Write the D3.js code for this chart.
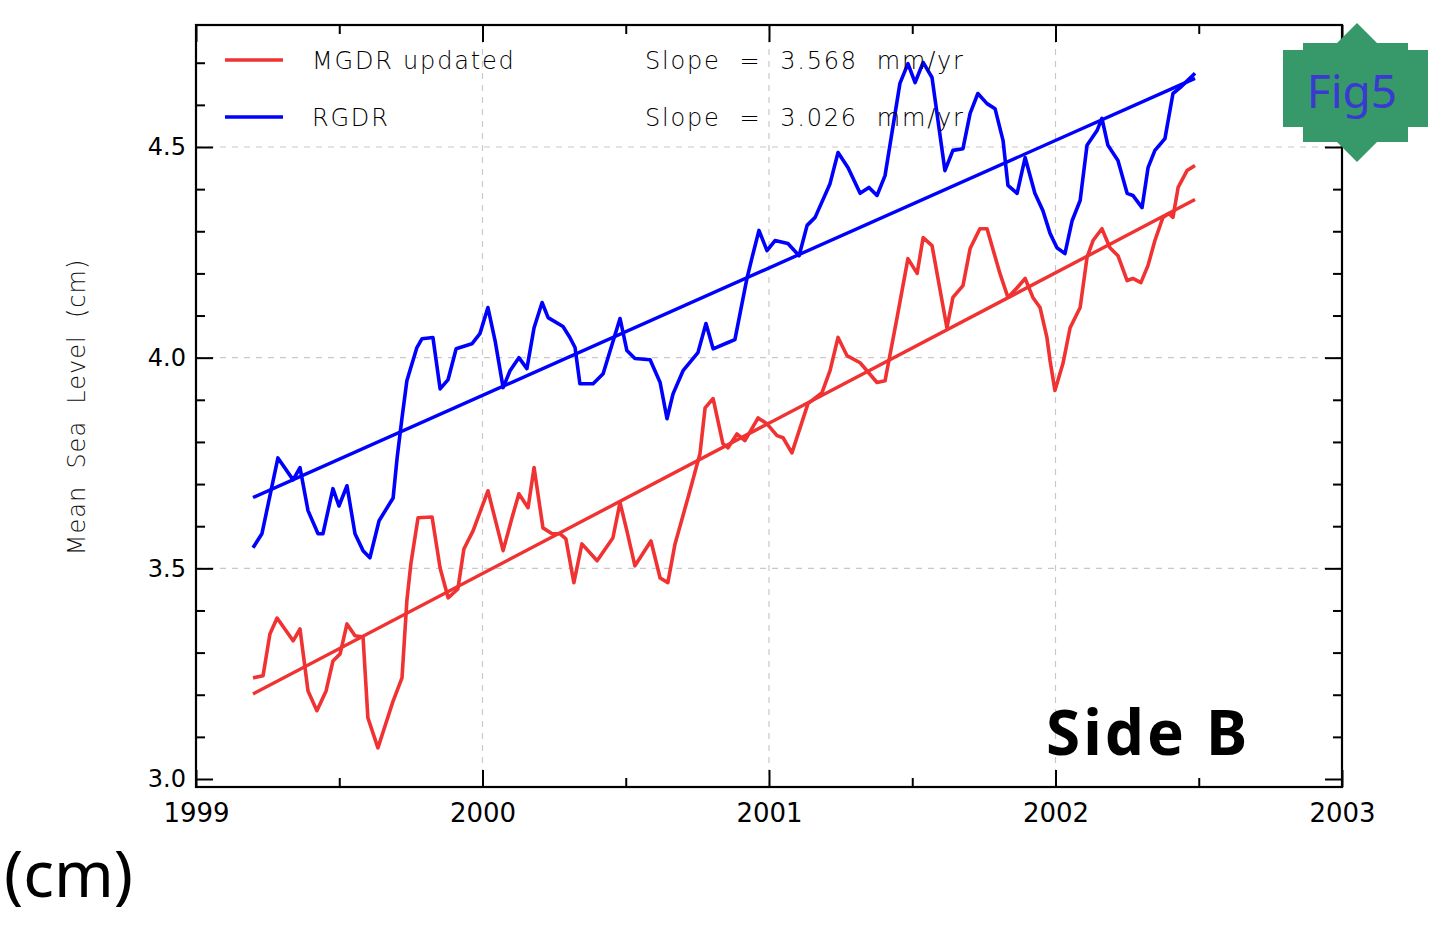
<!DOCTYPE html>
<html>
<head>
<meta charset="utf-8">
<script src="https://cdn.jsdelivr.net/npm/d3@7"></script>
<style>
  body { margin: 0; background: #fff; }
  text { white-space: pre; }
</style>
</head>
<body>
<div id="chart"></div>
<script>
// series (year, mean sea level in cm)
const mgdrYears = [1999.199, 1999.234, 1999.258, 1999.283, 1999.339, 1999.363, 1999.391, 1999.422, 1999.454, 1999.478,
  1999.503, 1999.527, 1999.555, 1999.583, 1999.600, 1999.635, 1999.688, 1999.719, 1999.736, 1999.750,
  1999.775, 1999.824, 1999.852, 1999.880, 1999.914, 1999.935, 1999.967, 2000.019, 2000.072, 2000.103,
  2000.127, 2000.159, 2000.180, 2000.211, 2000.243, 2000.271, 2000.291, 2000.319, 2000.347, 2000.400,
  2000.455, 2000.480, 2000.504, 2000.532, 2000.588, 2000.620, 2000.647, 2000.672, 2000.724, 2000.759,
  2000.777, 2000.805, 2000.839, 2000.857, 2000.888, 2000.916, 2000.962, 2000.993, 2001.028, 2001.049,
  2001.080, 2001.136, 2001.185, 2001.213, 2001.241, 2001.272, 2001.318, 2001.377, 2001.405, 2001.447,
  2001.485, 2001.517, 2001.538, 2001.569, 2001.621, 2001.642, 2001.677, 2001.702, 2001.736, 2001.761,
  2001.806, 2001.834, 2001.866, 2001.894, 2001.921, 2001.946, 2001.970, 2001.981, 2001.998, 2002.026,
  2002.051, 2002.086, 2002.110, 2002.131, 2002.162, 2002.190, 2002.218, 2002.250, 2002.270, 2002.298,
  2002.323, 2002.347, 2002.375, 2002.396, 2002.410, 2002.428, 2002.459, 2002.487];
const mgdrValues = [3.240, 3.245, 3.344, 3.382, 3.328, 3.356, 3.209, 3.162, 3.209, 3.280,
  3.297, 3.368, 3.340, 3.337, 3.145, 3.074, 3.185, 3.240, 3.423, 3.511,
  3.620, 3.622, 3.501, 3.430, 3.451, 3.546, 3.589, 3.684, 3.542, 3.620,
  3.677, 3.644, 3.739, 3.596, 3.582, 3.582, 3.570, 3.466, 3.558, 3.518,
  3.572, 3.656, 3.589, 3.506, 3.565, 3.477, 3.466, 3.558, 3.684, 3.772,
  3.881, 3.903, 3.796, 3.786, 3.819, 3.803, 3.857, 3.843, 3.815, 3.810,
  3.774, 3.891, 3.917, 3.969, 4.048, 4.005, 3.988, 3.941, 3.945, 4.095,
  4.235, 4.200, 4.285, 4.266, 4.071, 4.143, 4.171, 4.259, 4.306, 4.306,
  4.200, 4.143, 4.166, 4.188, 4.143, 4.119, 4.048, 3.993, 3.922, 3.986,
  4.071, 4.119, 4.238, 4.278, 4.306, 4.261, 4.242, 4.183, 4.188, 4.178,
  4.219, 4.278, 4.333, 4.342, 4.333, 4.404, 4.444, 4.456];

const rgdrYears = [1999.199, 1999.230, 1999.286, 1999.339, 1999.363, 1999.391, 1999.426, 1999.443, 1999.478, 1999.499,
  1999.527, 1999.555, 1999.583, 1999.607, 1999.639, 1999.688, 1999.702, 1999.719, 1999.736, 1999.771,
  1999.789, 1999.827, 1999.852, 1999.880, 1999.908, 1999.963, 1999.991, 2000.019, 2000.044, 2000.072,
  2000.096, 2000.127, 2000.155, 2000.180, 2000.208, 2000.229, 2000.281, 2000.305, 2000.323, 2000.340,
  2000.386, 2000.421, 2000.438, 2000.480, 2000.504, 2000.532, 2000.585, 2000.620, 2000.644, 2000.665,
  2000.700, 2000.752, 2000.780, 2000.805, 2000.857, 2000.881, 2000.923, 2000.941, 2000.965, 2000.993,
  2001.021, 2001.066, 2001.105, 2001.133, 2001.161, 2001.213, 2001.241, 2001.276, 2001.318, 2001.349,
  2001.377, 2001.405, 2001.457, 2001.485, 2001.510, 2001.538, 2001.569, 2001.614, 2001.642, 2001.677,
  2001.702, 2001.729, 2001.761, 2001.789, 2001.817, 2001.834, 2001.866, 2001.894, 2001.928, 2001.956,
  2001.981, 2002.005, 2002.033, 2002.058, 2002.086, 2002.110, 2002.145, 2002.162, 2002.183, 2002.218,
  2002.250, 2002.270, 2002.302, 2002.323, 2002.347, 2002.382, 2002.410, 2002.435, 2002.487];
const rgdrValues = [3.549, 3.582, 3.762, 3.710, 3.739, 3.637, 3.582, 3.582, 3.689, 3.648,
  3.696, 3.582, 3.542, 3.525, 3.613, 3.667, 3.762, 3.857, 3.945, 4.024,
  4.045, 4.048, 3.926, 3.948, 4.021, 4.033, 4.057, 4.119, 4.040, 3.929,
  3.969, 4.000, 3.974, 4.071, 4.131, 4.095, 4.074, 4.048, 4.024, 3.938,
  3.938, 3.962, 4.000, 4.093, 4.017, 3.998, 3.995, 3.941, 3.855, 3.914,
  3.969, 4.012, 4.081, 4.021, 4.036, 4.043, 4.188, 4.238, 4.302, 4.254,
  4.278, 4.271, 4.242, 4.314, 4.333, 4.413, 4.487, 4.451, 4.390, 4.404,
  4.385, 4.432, 4.651, 4.698, 4.653, 4.701, 4.665, 4.444, 4.492, 4.496,
  4.580, 4.627, 4.603, 4.591, 4.515, 4.409, 4.390, 4.475, 4.390, 4.349,
  4.295, 4.261, 4.247, 4.325, 4.373, 4.504, 4.539, 4.568, 4.504, 4.468,
  4.390, 4.385, 4.356, 4.451, 4.492, 4.520, 4.627, 4.641, 4.675];

const seriesNames = ["MGDR updated", "RGDR"];
const seriesColors = ["#f03232", "#0000ff"];
const slopes = [3.568, 3.026];        // mm/yr
const trendStart = [3.202, 3.668];    // cm at first sample
const yearTicks = [1999, 2000, 2001, 2002, 2003];
const levelTicks = [3.0, 3.5, 4.0, 4.5];

const W = 1451, H = 925;
const svg = d3.select("#chart").append("svg")
  .attr("width", W).attr("height", H);

const pLeft = 196, pRight = 1342, pTop = 25, pBottom = 787;
const x = d3.scaleLinear().domain([1999, 2003]).range([pLeft, pRight]);
const y = d3.scaleLinear().domain([3.0, 4.5]).range([779, 147]);

// grid
const grid = svg.append("g").attr("stroke", "#c8c8c8").attr("stroke-width", 1.2)
  .attr("stroke-dasharray", "6,6");
grid.selectAll(".gx").data(yearTicks.slice(1, -1)).enter().append("line")
  .attr("x1", d => x(d)).attr("x2", d => x(d)).attr("y1", pTop).attr("y2", pBottom);
grid.selectAll(".gy").data(levelTicks.slice(1)).enter().append("line")
  .attr("x1", pLeft).attr("x2", pRight).attr("y1", d => y(d)).attr("y2", d => y(d));

// axes, ticks pointing inward
const halfYears = d3.range(1999.5, 2003, 1);
const tenths = d3.range(3.0, 4.75, 0.1).map(v => +v.toFixed(1)).filter(v => levelTicks.indexOf(v) < 0);
const axisFont = "'DejaVu Sans', sans-serif";

function styleAxis(g) {
  g.select(".domain").remove();
  g.selectAll("line").attr("stroke", "#000").attr("stroke-width", 2);
  g.selectAll("text").attr("fill", "#000").style("font-family", axisFont);
}

svg.append("g").attr("transform", `translate(0,${pBottom})`)
  .call(d3.axisBottom(x).tickValues(yearTicks).tickFormat(d3.format("d")).tickSizeInner(-17).tickSizeOuter(0).tickPadding(17))
  .call(styleAxis).selectAll("text").style("font-size", "26px");
svg.append("g").attr("transform", `translate(0,${pBottom})`)
  .call(d3.axisBottom(x).tickValues(halfYears).tickFormat("").tickSizeInner(-9).tickSizeOuter(0))
  .call(styleAxis);
svg.append("g").attr("transform", `translate(0,${pTop})`)
  .call(d3.axisTop(x).tickValues(yearTicks).tickFormat("").tickSizeInner(-17).tickSizeOuter(0))
  .call(styleAxis);
svg.append("g").attr("transform", `translate(0,${pTop})`)
  .call(d3.axisTop(x).tickValues(halfYears).tickFormat("").tickSizeInner(-9).tickSizeOuter(0))
  .call(styleAxis);

svg.append("g").attr("transform", `translate(${pLeft},0)`)
  .call(d3.axisLeft(y).tickValues(levelTicks).tickFormat(d3.format(".1f")).tickSizeInner(-17).tickSizeOuter(0).tickPadding(10))
  .call(styleAxis).selectAll("text").style("font-size", "24px");
svg.append("g").attr("transform", `translate(${pLeft},0)`)
  .call(d3.axisLeft(y).tickValues(tenths).tickFormat("").tickSizeInner(-9).tickSizeOuter(0))
  .call(styleAxis);
svg.append("g").attr("transform", `translate(${pRight},0)`)
  .call(d3.axisRight(y).tickValues(levelTicks).tickFormat("").tickSizeInner(-17).tickSizeOuter(0))
  .call(styleAxis);
svg.append("g").attr("transform", `translate(${pRight},0)`)
  .call(d3.axisRight(y).tickValues(tenths).tickFormat("").tickSizeInner(-9).tickSizeOuter(0))
  .call(styleAxis);

// frame
svg.append("rect").attr("x", pLeft).attr("y", pTop)
  .attr("width", pRight - pLeft).attr("height", pBottom - pTop)
  .attr("fill", "none").attr("stroke", "#000").attr("stroke-width", 2.2);

// data lines
const series = [
  d3.zip(mgdrYears, mgdrValues),
  d3.zip(rgdrYears, rgdrValues)
];
const line = d3.line().x(d => x(d[0])).y(d => y(d[1]));

series.forEach((s, i) => {
  svg.append("path").datum(s)
    .attr("d", line)
    .attr("fill", "none")
    .attr("stroke", seriesColors[i])
    .attr("stroke-width", 3.6)
    .attr("stroke-linejoin", "round");

  const x0 = s[0][0], x1 = s[s.length - 1][0];
  const trend = [[x0, trendStart[i]], [x1, trendStart[i] + slopes[i] / 10 * (x1 - x0)]];
  svg.append("path").datum(trend)
    .attr("d", line)
    .attr("fill", "none")
    .attr("stroke", seriesColors[i])
    .attr("stroke-width", 3.4);
});

// legend
const legendFont = "'DejaVu Sans', sans-serif";
seriesNames.forEach((name, i) => {
  const ly = 60 + i * 57;
  svg.append("line").attr("x1", 225).attr("x2", 283).attr("y1", ly).attr("y2", ly)
    .attr("stroke", seriesColors[i]).attr("stroke-width", 3.6);
  svg.append("text").attr("x", 312).attr("y", ly + 9)
    .style("font-family", legendFont).style("font-weight", 300).style("font-size", "24px").style("letter-spacing", "1.8px")
    .attr("fill", "#000").text(name);
  svg.append("text").attr("x", 645).attr("y", ly + 9)
    .style("font-family", legendFont).style("font-weight", 300).style("font-size", "24px").style("letter-spacing", "1.8px")
    .attr("fill", "#000").text("Slope  =  " + slopes[i].toFixed(3) + "  mm/yr");
});

// y label
svg.append("text")
  .attr("transform", "translate(85,407) rotate(-90)")
  .attr("text-anchor", "middle")
  .style("font-family", legendFont).style("font-weight", 300).style("font-size", "24px").style("letter-spacing", "1px")
  .attr("fill", "#111").text("Mean  Sea  Level  (cm)");

// annotations
svg.append("text").attr("x", 1046).attr("y", 755)
  .style("font-family", "'Noto Sans', sans-serif").style("font-weight", "bold").style("font-size", "62px")
  .style("letter-spacing", "3px")
  .attr("fill", "#000").text("Side B");
svg.append("text").attr("x", 4).attr("y", 897)
  .style("font-family", "'Noto Sans', sans-serif").style("font-size", "64px")
  .attr("fill", "#000").text("(cm)");

// Fig5 badge
const badge = [[1357,23],[1337,43],[1303,43],[1303,50],[1283,50],[1283,127],[1303,127],[1303,142],[1337,142],
  [1357,162],[1377,142],[1408,142],[1408,127],[1428,127],[1428,50],[1408,50],[1408,43],[1377,43]];
svg.append("polygon").attr("points", badge.map(p => p.join(",")).join(" ")).attr("fill", "#37996a");
svg.append("text").attr("x", 1352).attr("y", 108).attr("text-anchor", "middle")
  .style("font-family", "'Noto Sans', sans-serif").style("font-size", "46px")
  .attr("fill", "#3a3ad0").text("Fig5");
</script>
</body>
</html>
